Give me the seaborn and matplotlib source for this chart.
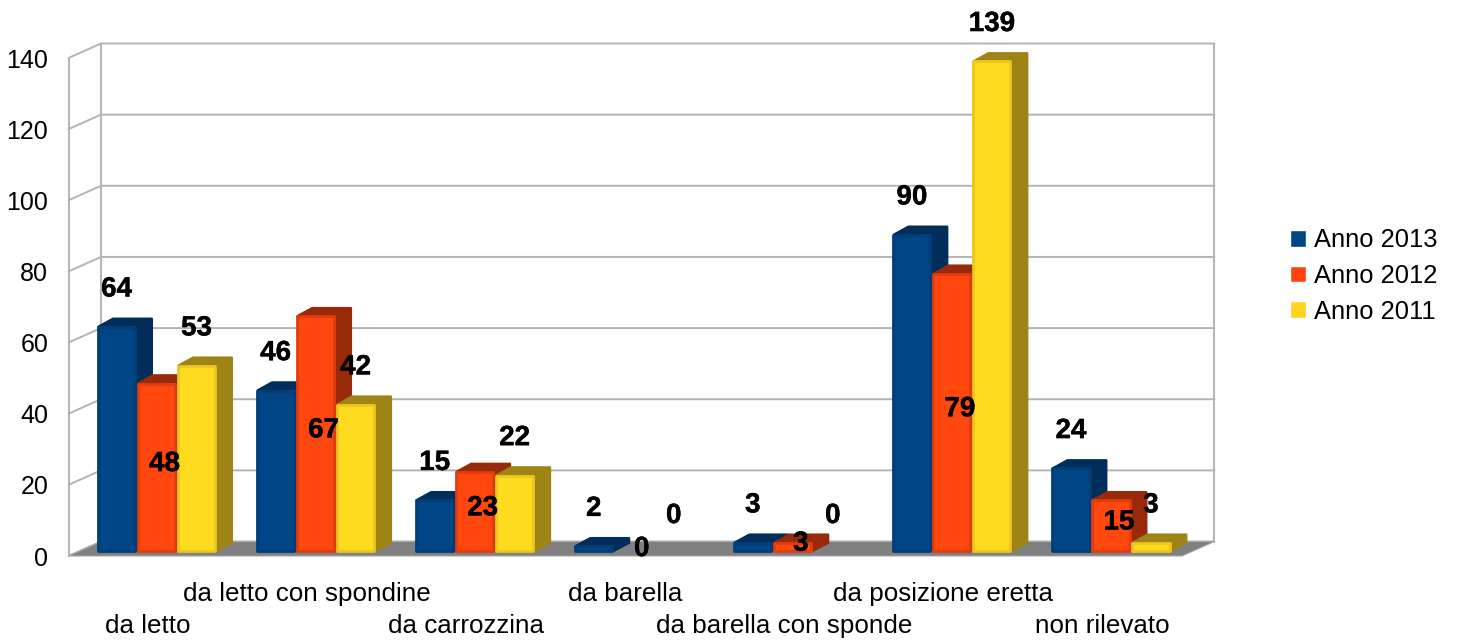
import matplotlib
matplotlib.use("Agg")
import matplotlib.pyplot as plt
import matplotlib.patheffects as pe
import pandas as pd
import seaborn as sns
from matplotlib.patches import Polygon
from matplotlib.transforms import Affine2D

categories = ["da letto", "da letto con spondine", "da carrozzina", "da barella",
              "da barella con sponde", "da posizione eretta", "non rilevato"]
anno_2013 = [64, 46, 15, 2, 3, 90, 24]
anno_2012 = [48, 67, 23, 0, 3, 79, 15]
anno_2011 = [53, 42, 22, 0, 0, 139, 3]
series_names = ["Anno 2013", "Anno 2012", "Anno 2011"]
y_ticks = [0, 20, 40, 60, 80, 100, 120, 140]

front = ["#004586", "#ff420e", "#ffd320"]
body = ["#004586", "#ff470e", "#ffdb20"]
side = ["#002d5a", "#992a09", "#9e8414"]
edge = ["#003e78", "#e03c10", "#ecc61e"]
GRID = "#b3b3b3"
FLOOR = "#808080"

W, H = 1457, 640
L, R, T, B = 68.5, 1182.0, 58.0, 556.0     # front plane, pixels from top-left

sns.set_style("white")
plt.rcParams["font.family"] = ["Liberation Sans", "DejaVu Sans"]

df = pd.DataFrame({
    "categoria": categories * 3,
    "anno": sum([[n] * len(categories) for n in series_names], []),
    "valore": anno_2013 + anno_2012 + anno_2011,
})

fig = plt.figure(figsize=(W / 100, H / 100), dpi=100)
ax = fig.add_axes([L / W, 1 - B / H, (R - L) / W, (B - T) / H])
ax.patch.set_alpha(0)
sns.barplot(data=df, x="categoria", y="valore", hue="anno", order=categories,
            hue_order=series_names, palette=front, width=120 / 159.07, gap=0,
            saturation=1, errorbar=None, ax=ax, zorder=3)
ax.set_xlim(-0.5, 6.5)
ax.set_ylim(0, 140)
ax.set_xlabel("")
ax.set_ylabel("")

px = (R - L) / 7          # pixels per category
py = (B - T) / 140        # pixels per value unit

# walls, floor
bx, by = 32.5 / px, 14.5 / py
ax.add_patch(Polygon([(-0.5, 0), (6.5, 0), (6.5 + bx, by), (-0.5 + bx, by)],
                     closed=True, fc=FLOOR, ec="#a8a8a8", lw=0.8, zorder=1, clip_on=False))
for v in y_ticks:
    ax.plot([-0.5, -0.5 + bx, 6.5 + bx], [v, v + by, v + by], color=GRID, lw=1.4,
            zorder=0.5, clip_on=False, solid_joinstyle="miter")
ax.plot([-0.5 + bx] * 2, [by, 140 + by], color=GRID, lw=1.4, zorder=0.6, clip_on=False)
ax.plot([6.5 + bx] * 2, [by, 140 + by], color=GRID, lw=1.4, zorder=0.6, clip_on=False)

# axis text
sns.despine(ax=ax, top=True, right=True, bottom=True, left=False)
ax.spines["left"].set_color(GRID)
ax.spines["left"].set_linewidth(1.4)
ax.set_yticks(y_ticks)
ax.tick_params(axis="y", length=0, pad=14.5, labelsize=18, labelcolor="black")
ax.tick_params(axis="x", length=0, labelsize=18.7, labelcolor="black")
for label in ax.get_yticklabels():
    label.set_verticalalignment("center_baseline")
for i, tick in enumerate(ax.xaxis.get_major_ticks()):
    tick.set_pad(41.5 if i % 2 == 0 else 18.5)

sns.move_legend(ax, "center left", bbox_to_anchor=(1290 / W, 1 - 276 / H),
                bbox_transform=fig.transFigure, frameon=False, title=None,
                fontsize=18.4, labelcolor="black", handlelength=0.63, handleheight=0.63,
                handletextpad=0.32, labelspacing=0.46, borderpad=0, borderaxespad=0)

# 3D bar bodies: the bar plane sits a little behind the front plane
bar_tr = Affine2D().scale(1, 0.995) + ax.transData + Affine2D().translate(8.5, 4)
dx, dy = 16.5 / px, 8.0 / py
inset = 1.4
all_values = [anno_2013, anno_2012, anno_2011]
for s, container in enumerate(ax.containers):
    for c, rect in enumerate(container):
        value = all_values[s][c]
        x0, w = rect.get_x(), rect.get_width()
        z = 3 + 0.01 * (c * 3 + s)
        if value == 0:
            rect.set_visible(False)
        else:
            rect.set_x(x0 + inset / px)
            rect.set_width(w - 2 * inset / px)
            rect.set_y(inset / py)
            rect.set_height(value - 2 * inset / py)
            rect.set_transform(bar_tr)
            rect.set_clip_on(False)
            rect.set_facecolor(body[s])
            rect.set_edgecolor(edge[s])
            rect.set_linewidth(2.0)
            rect.set_joinstyle("round")
            rect.set_zorder(z + 0.002)
            xr = x0 + w
            r = 1.2
            ax.add_patch(Polygon(
                [(x0 + 2 / px, value - r / py), (x0 + dx, value + dy - r / py),
                 (xr + dx - r / px, value + dy - r / py), (xr + dx - r / px, dy + r / py),
                 (xr, r / py), (xr, value)],
                closed=True, fc=side[s], ec=side[s], lw=1.7, joinstyle="round",
                transform=bar_tr, zorder=z, clip_on=False))
        # data labels
        cx = x0 + w / 2
        if s == 1:
            xy, off = (cx, value / 2), (8, 3)
        else:
            xy, off = (cx, value), (0, 36)
        ax.annotate(str(value), xy=xy, xycoords=bar_tr, xytext=off, textcoords="offset pixels",
                    ha="center", va="center", fontsize=20, fontweight="bold",
                    color="black", zorder=10, annotation_clip=False,
                    path_effects=[pe.withStroke(linewidth=0.3, foreground="black")])

fig.savefig("out.png", dpi=100)
